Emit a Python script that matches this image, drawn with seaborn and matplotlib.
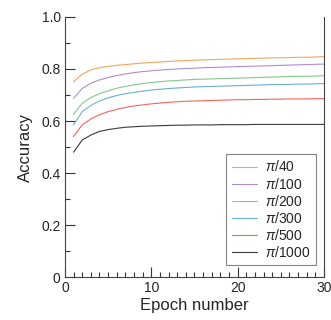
import numpy as np
import pandas as pd
import matplotlib
matplotlib.use('Agg')
import matplotlib.pyplot as plt
import seaborn as sns
from matplotlib.ticker import MultipleLocator
from matplotlib.lines import Line2D

epochs = list(range(1, 31))
labels = [r'$\pi$/40', r'$\pi$/100', r'$\pi$/200', r'$\pi$/300', r'$\pi$/500', r'$\pi$/1000']
colors = ['#f7a35c', '#b58bcf', '#82c98a', '#6aaed8', '#f2665a', '#3a3a3a']

acc_40 = [0.751, 0.780, 0.797, 0.805, 0.810, 0.814, 0.817, 0.820, 0.823, 0.825,
          0.827, 0.829, 0.831, 0.832, 0.834, 0.835, 0.836, 0.837, 0.838, 0.839,
          0.840, 0.841, 0.842, 0.843, 0.843, 0.844, 0.845, 0.845, 0.846, 0.848]
acc_100 = [0.687, 0.725, 0.745, 0.758, 0.767, 0.775, 0.781, 0.786, 0.790, 0.793,
           0.796, 0.798, 0.800, 0.802, 0.803, 0.805, 0.806, 0.807, 0.808, 0.809,
           0.810, 0.811, 0.812, 0.813, 0.814, 0.815, 0.816, 0.817, 0.818, 0.819]
acc_200 = [0.626, 0.668, 0.690, 0.705, 0.716, 0.726, 0.733, 0.739, 0.744, 0.748,
           0.751, 0.754, 0.756, 0.758, 0.760, 0.761, 0.762, 0.763, 0.764, 0.765,
           0.766, 0.767, 0.768, 0.769, 0.770, 0.771, 0.772, 0.772, 0.773, 0.774]
acc_300 = [0.585, 0.636, 0.660, 0.677, 0.689, 0.698, 0.705, 0.710, 0.715, 0.719,
           0.722, 0.725, 0.727, 0.729, 0.731, 0.732, 0.733, 0.734, 0.735, 0.736,
           0.737, 0.738, 0.739, 0.740, 0.740, 0.741, 0.742, 0.742, 0.743, 0.744]
acc_500 = [0.540, 0.585, 0.608, 0.624, 0.636, 0.645, 0.652, 0.658, 0.662, 0.666,
           0.669, 0.672, 0.674, 0.676, 0.677, 0.678, 0.679, 0.680, 0.681, 0.682,
           0.682, 0.683, 0.683, 0.684, 0.684, 0.685, 0.685, 0.685, 0.686, 0.686]
acc_1000 = [0.480, 0.527, 0.546, 0.560, 0.567, 0.572, 0.576, 0.578, 0.580, 0.581,
            0.582, 0.583, 0.584, 0.584, 0.585, 0.585, 0.585, 0.586, 0.586, 0.586,
            0.586, 0.587, 0.587, 0.587, 0.587, 0.587, 0.587, 0.587, 0.587, 0.587]

series = [acc_40, acc_100, acc_200, acc_300, acc_500, acc_1000]
df = pd.concat([pd.DataFrame({'epoch': epochs, 'acc': s, 'angle': lab})
                for s, lab in zip(series, labels)], ignore_index=True)

sns.set_style('ticks', {'xtick.direction': 'in', 'ytick.direction': 'in'})
plt.rcParams['font.family'] = ['Liberation Sans', 'DejaVu Sans']
plt.rcParams['mathtext.fontset'] = 'custom'
plt.rcParams['mathtext.it'] = 'Liberation Sans:italic'

fig = plt.figure(figsize=(3.31, 3.20), dpi=100)
ax = fig.add_axes([0.196, 0.134, 0.783, 0.813])

sns.lineplot(data=df, x='epoch', y='acc', hue='angle', hue_order=labels,
             palette=dict(zip(labels, colors)), linewidth=0.8, ax=ax, legend=False)

ax.set_xlim(0, 30)
ax.set_ylim(0, 1.0)
ax.xaxis.set_major_locator(MultipleLocator(10))
ax.xaxis.set_minor_locator(MultipleLocator(1))
ax.set_yticks([0, 0.2, 0.4, 0.6, 0.8, 1.0])
ax.set_yticklabels(['0', '0.2', '0.4', '0.6', '0.8', '1.0'])
ax.yaxis.set_minor_locator(MultipleLocator(0.1))
ax.tick_params(which='both', direction='in', color='#333333', width=0.8,
               labelsize=10, pad=3, top=False, right=False, bottom=True, left=True)
ax.tick_params(which='major', length=7)
ax.tick_params(which='minor', length=3.6)

ax.spines['top'].set_visible(False)
for s in ['left', 'right', 'bottom']:
    ax.spines[s].set_color('#444444')
    ax.spines[s].set_linewidth(0.8)

ax.set_xlabel('Epoch number', fontsize=12, labelpad=2)
ax.set_ylabel('Accuracy', fontsize=12, labelpad=6)

handles = [Line2D([], [], color=c, linewidth=0.8) for c in colors]
leg = ax.legend(handles, labels, loc='lower right', bbox_to_anchor=(0.97, 0.045),
                borderaxespad=0, fontsize=10, frameon=True, fancybox=False,
                handlelength=1.8, labelspacing=0.15, handletextpad=0.6, borderpad=0.4)
leg.get_frame().set_edgecolor('#666666')
leg.get_frame().set_linewidth(0.8)

fig.savefig('out.png', dpi=100)
